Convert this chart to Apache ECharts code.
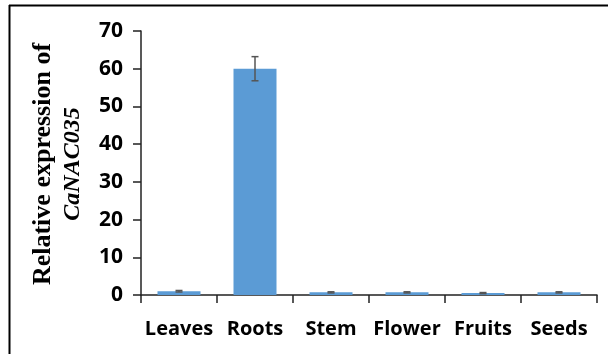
<!DOCTYPE html>
<html><head><meta charset="utf-8">
<script src="https://cdn.jsdelivr.net/npm/echarts@6/dist/echarts.min.js"></script>
<style>html,body{margin:0;padding:0;background:#fff}#c{width:608px;height:354px}</style>
</head><body><div id="c"></div>
<script>
const categories = ['Leaves', 'Roots', 'Stem', 'Flower', 'Fruits', 'Seeds'];
const values = [1.0, 60.0, 0.7, 0.7, 0.5, 0.7];
const errors = [0.2, 3.2, 0.15, 0.15, 0.15, 0.15];
const yTicks = [0, 10, 20, 30, 40, 50, 60, 70];

const chart = echarts.init(document.getElementById('c'), null, {renderer: 'canvas'});
const axisColor = '#222';
chart.setOption({
  animation: false,
  grid: {left: 141, right: 11, top: 31, bottom: 59, containLabel: false},
  xAxis: {
    type: 'category', data: categories,
    axisLine: {lineStyle: {color: axisColor, width: 1.5}},
    axisTick: {show: true, length: 8, alignWithLabel: false, lineStyle: {color: axisColor, width: 1.5}},
    axisLabel: {color: '#000', fontFamily: 'Open Sans', fontWeight: 'bold', fontSize: 20, margin: 24, interval: 0}
  },
  yAxis: {
    type: 'value', min: yTicks[0], max: yTicks[yTicks.length - 1], interval: 10,
    axisLine: {show: true, lineStyle: {color: axisColor, width: 1.5}},
    axisTick: {show: true, length: 8, lineStyle: {color: axisColor, width: 1.5}},
    splitLine: {show: false},
    axisLabel: {color: '#000', fontFamily: 'Open Sans', fontWeight: 'bold', fontSize: 21, margin: 18}
  },
  series: [
    {type: 'bar', data: values, barWidth: 43, itemStyle: {color: '#5B9BD5'}, z: 2},
    {type: 'custom', z: 3,
     data: values.map((v, i) => [i, v - errors[i], v + errors[i]]),
     renderItem: function (params, api) {
       const lo = api.coord([api.value(0), api.value(1)]);
       const hi = api.coord([api.value(0), api.value(2)]);
       const hw = 3.5;
       const st = {stroke: '#555', lineWidth: 1.5, fill: null};
       return {type: 'group', children: [
         {type: 'line', shape: {x1: lo[0], y1: lo[1], x2: hi[0], y2: hi[1]}, style: st},
         {type: 'line', shape: {x1: lo[0] - hw, y1: lo[1], x2: lo[0] + hw, y2: lo[1]}, style: st},
         {type: 'line', shape: {x1: hi[0] - hw, y1: hi[1], x2: hi[0] + hw, y2: hi[1]}, style: st}
       ]};
     }
    }
  ],
  graphic: [
    {type: 'line', shape: {x1: 9, y1: 5.5, x2: 608, y2: 5.5}, style: {stroke: '#000', lineWidth: 2}},
    {type: 'line', shape: {x1: 9.5, y1: 5, x2: 9.5, y2: 354}, style: {stroke: '#000', lineWidth: 2}},
    {type: 'text', x: 58, y: 164, rotation: Math.PI / 2,
     style: {
       text: '{a|Relative expression of}\n{b|CaNAC035}',
       align: 'center', verticalAlign: 'middle',
       rich: {
         a: {fontFamily: 'Liberation Serif', fontWeight: 'bold', fontSize: 26, lineHeight: 30, fill: '#000', align: 'center'},
         b: {fontFamily: 'Liberation Serif', fontWeight: 'bold', fontStyle: 'italic', fontSize: 24, lineHeight: 30, fill: '#000', align: 'center'}
       }
     }}
  ]
});
</script></body></html>
